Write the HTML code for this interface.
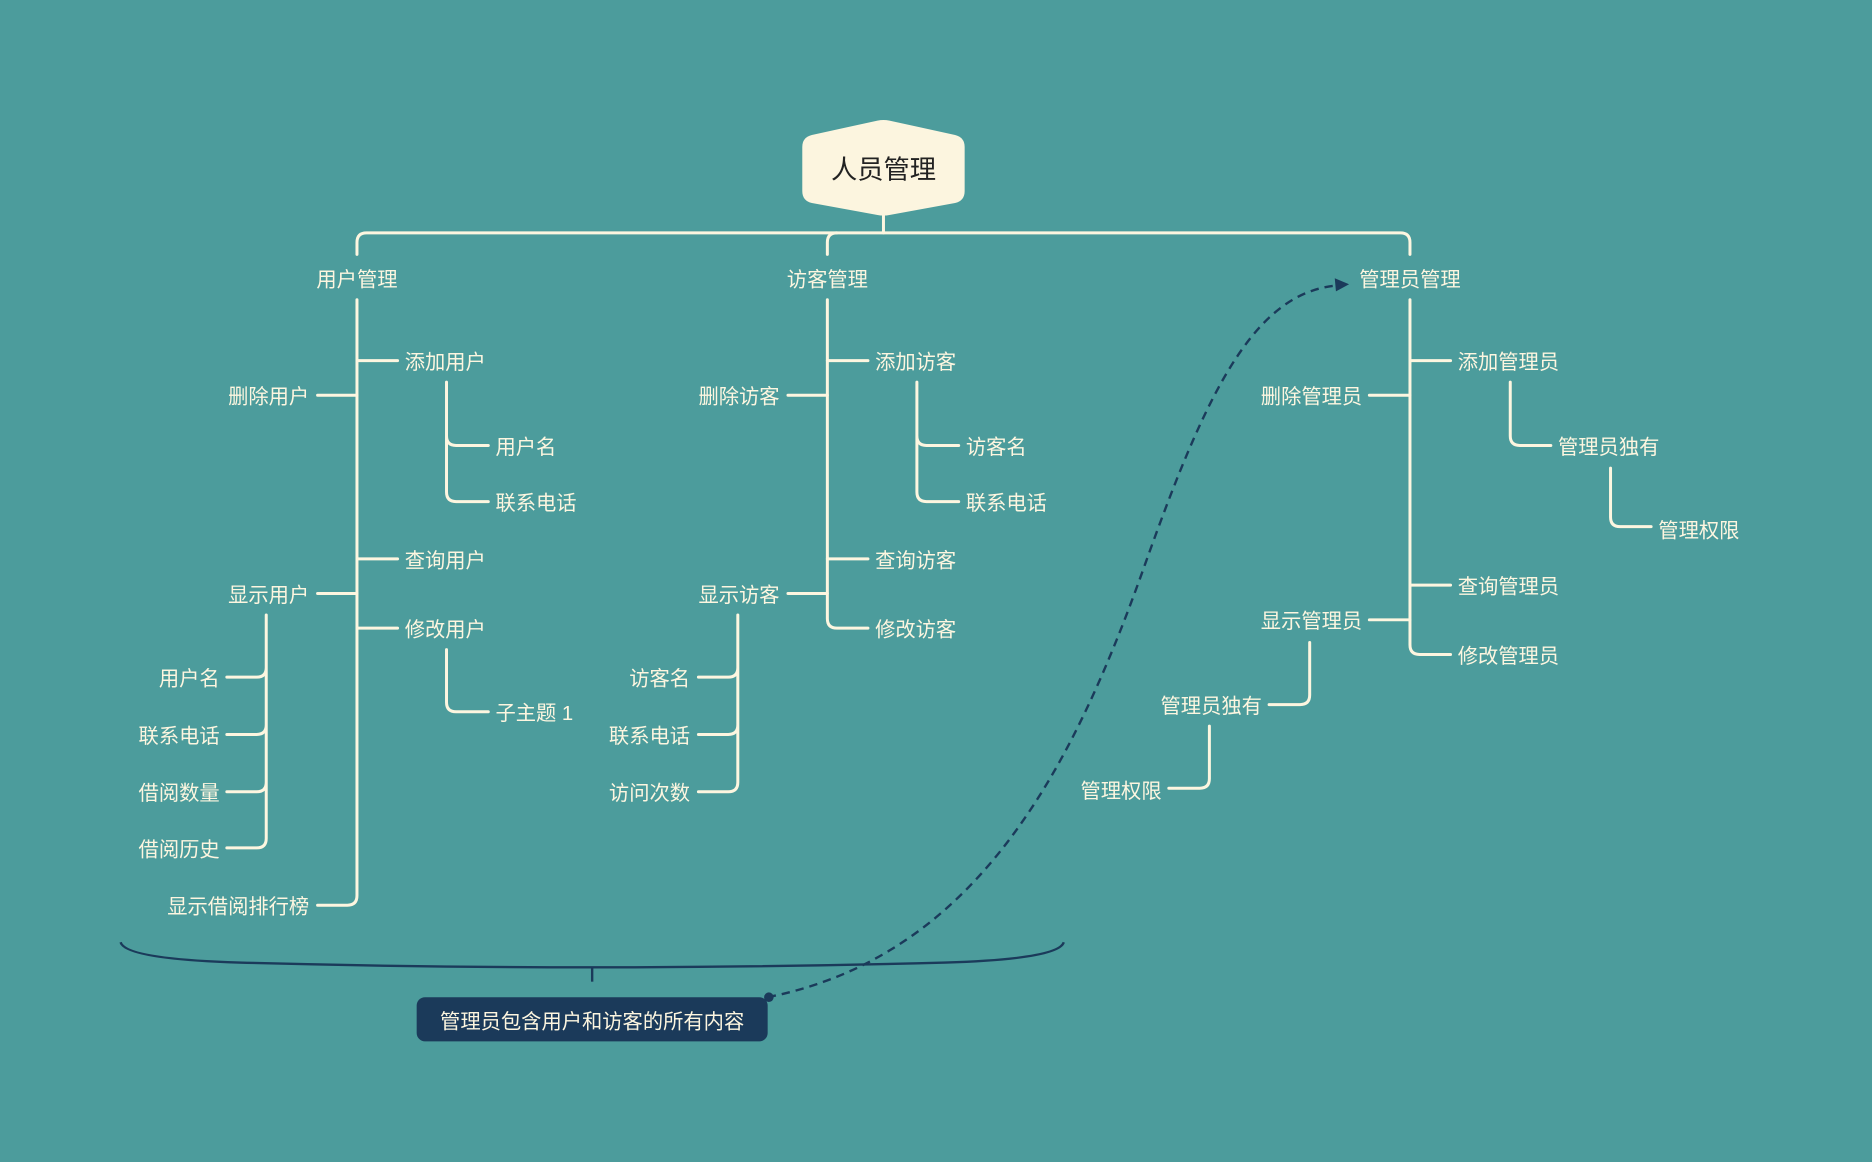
<!DOCTYPE html>
<html><head><meta charset="utf-8"><style>
html,body{margin:0;padding:0;background:#4c9c9c;}
svg{display:block}
text{font-family:"Liberation Sans","Noto Sans CJK SC",sans-serif;font-size:17px;fill:#fdf6e0;dominant-baseline:central}
</style></head><body>
<svg width="1872" height="1162" viewBox="0 0 1568 973" preserveAspectRatio="none" xmlns="http://www.w3.org/2000/svg">
<rect width="1568" height="973" fill="#4c9c9c"/>
<g fill="none" stroke="#fdf6e0" stroke-width="2.5" stroke-linecap="round">
<path d="M740,180 V195"/>
<path d="M299,213 V203 Q299,195 307,195 H1173 Q1181,195 1181,203 V213"/>
<path d="M693,213 V203 Q693,195 701,195"/>
<path d="M299,251 V750 Q299,758 291,758 H266"/>
<path d="M299,302 H333 M299,468 H333 M299,526 H333 M266,331 H299 M266,497 H299"/>
<path d="M374,320 V365 Q374,373 382,373 H409 M374,365 V412 Q374,420 382,420 H409"/>
<path d="M374,544 V588 Q374,596 382,596 H409"/>
<path d="M223,515 V559 Q223,567 215,567 H190 M223,559 V607 Q223,615 215,615 H190 M223,607 V655 Q223,663 215,663 H190 M223,655 V702 Q223,710 215,710 H190"/>
<path d="M693,251 V518 Q693,526 701,526 H727"/>
<path d="M693,302 H727 M693,468 H727 M660,331 H693 M660,497 H693"/>
<path d="M768,320 V365 Q768,373 776,373 H803 M768,365 V412 Q768,420 776,420 H803"/>
<path d="M618,515 V559 Q618,567 610,567 H585 M618,559 V607 Q618,615 610,615 H585 M618,607 V655 Q618,663 610,663 H585"/>
<path d="M1181,251 V540 Q1181,548 1189,548 H1215"/>
<path d="M1181,302 H1215 M1181,490 H1215 M1147,331 H1181 M1147,519 H1181"/>
<path d="M1265,320 V365 Q1265,373 1273,373 H1299"/>
<path d="M1349,392 V433 Q1349,441 1357,441 H1383"/>
<path d="M1097,538 V582 Q1097,590 1089,590 H1063"/>
<path d="M1013,608 V652 Q1013,660 1005,660 H979"/>
</g>
<path d="M680,113 L735,101 Q740,100 745,101 L800,113 Q808,115 808,123 V160 Q808,168 800,170 L745,180 Q740,181 735,180 L680,170 Q672,168 672,160 V123 Q672,115 680,113 Z" fill="#fcf5df"/>
<text x="740" y="142" text-anchor="middle" style="font-size:22px;fill:#222">人员管理</text>
<g transform="translate(0,2)">
<text x="299" y="233" text-anchor="middle">用户管理</text>
<text x="693" y="233" text-anchor="middle">访客管理</text>
<text x="1181" y="233" text-anchor="middle">管理员管理</text>
<text x="339" y="302">添加用户</text>
<text x="259" y="331" text-anchor="end">删除用户</text>
<text x="415" y="373">用户名</text>
<text x="415" y="420">联系电话</text>
<text x="339" y="468">查询用户</text>
<text x="259" y="497" text-anchor="end">显示用户</text>
<text x="339" y="526">修改用户</text>
<text x="415" y="596">子主题 1</text>
<text x="184" y="567" text-anchor="end">用户名</text>
<text x="184" y="615" text-anchor="end">联系电话</text>
<text x="184" y="663" text-anchor="end">借阅数量</text>
<text x="184" y="710" text-anchor="end">借阅历史</text>
<text x="259" y="758" text-anchor="end">显示借阅排行榜</text>
<text x="733" y="302">添加访客</text>
<text x="653" y="331" text-anchor="end">删除访客</text>
<text x="809" y="373">访客名</text>
<text x="809" y="420">联系电话</text>
<text x="733" y="468">查询访客</text>
<text x="653" y="497" text-anchor="end">显示访客</text>
<text x="733" y="526">修改访客</text>
<text x="578" y="567" text-anchor="end">访客名</text>
<text x="578" y="615" text-anchor="end">联系电话</text>
<text x="578" y="663" text-anchor="end">访问次数</text>
<text x="1221" y="302">添加管理员</text>
<text x="1141" y="331" text-anchor="end">删除管理员</text>
<text x="1305" y="373">管理员独有</text>
<text x="1389" y="443">管理权限</text>
<text x="1221" y="490">查询管理员</text>
<text x="1141" y="519" text-anchor="end">显示管理员</text>
<text x="1221" y="548">修改管理员</text>
<text x="1057" y="590" text-anchor="end">管理员独有</text>
<text x="973" y="661" text-anchor="end">管理权限</text>
</g>
<path d="M101,789 Q105,803 200,806 Q496,814 792,806 Q887,803 891,789" fill="none" stroke="#1b3a5a" stroke-width="2"/>
<path d="M496,810 V822" stroke="#1b3a5a" stroke-width="2"/>
<path d="M643,835 C820,800 900,640 960,470 C1010,330 1050,245 1120,239" fill="none" stroke="#1b3a5a" stroke-width="2" stroke-dasharray="7,5"/>
<path d="M1130,238 L1118,233 L1119,244 Z" fill="#1b3a5a"/>
<circle cx="644" cy="835" r="4" fill="#1b3a5a"/>
<rect x="349" y="835" width="294" height="37" rx="7" fill="#1b3a5a"/>
<text x="496" y="856" text-anchor="middle">管理员包含用户和访客的所有内容</text>
</svg>
</body></html>
